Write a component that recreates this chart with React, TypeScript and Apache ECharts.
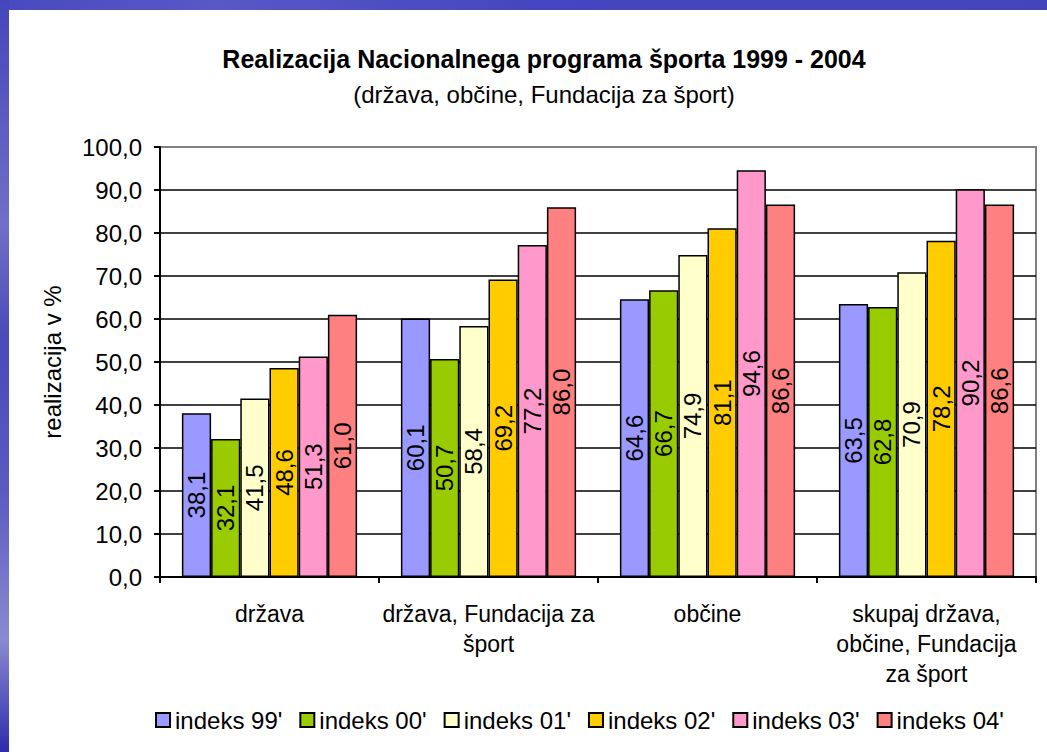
import React, { useEffect, useRef } from "react";
import * as echarts from "echarts";

const categories = [
  "država",
  "država, Fundacija za\nšport",
  "občine",
  "skupaj država,\nobčine, Fundacija\nza šport",
];
const seriesNames = ["indeks 99'", "indeks 00'", "indeks 01'", "indeks 02'", "indeks 03'", "indeks 04'"];
const seriesColors = ["#9999FF", "#99CC00", "#FFFFCC", "#FFCC00", "#FF99CC", "#FF8080"];
const index99 = [38.1, 60.1, 64.6, 63.5];
const index00 = [32.1, 50.7, 66.7, 62.8];
const index01 = [41.5, 58.4, 74.9, 70.9];
const index02 = [48.6, 69.2, 81.1, 78.2];
const index03 = [51.3, 77.2, 94.6, 90.2];
const index04 = [61.0, 86.0, 86.6, 86.6];
const seriesValues = [index99, index00, index01, index02, index03, index04];

const titleText = "Realizacija Nacionalnega programa športa 1999 - 2004";
const subtitleText = "(država, občine, Fundacija za šport)";
const yAxisName = "realizacija v %";

const FONT = "'Liberation Sans', Arial, sans-serif";
const fmt = (v: number) => v.toFixed(1).replace(".", ",");

export default function App() {
  const ref = useRef<HTMLDivElement>(null);
  useEffect(() => {
    if (!ref.current) return;
    const chart = echarts.init(ref.current, undefined, { renderer: "svg" });
    const splitColors = Array.from({ length: 11 }, (_, i) => (i === 10 ? "#808080" : "#000000"));
    chart.setOption({
      animation: false,
      backgroundColor: "#ffffff",
      textStyle: { fontFamily: FONT },
      graphic: [
        {
          type: "rect",
          z: -10,
          silent: true,
          shape: { x: 0, y: 0, width: 1047, height: 752 },
          style: {
            fill: new echarts.graphic.LinearGradient(0, 0, 0, 1, [
              { offset: 0, color: "#4646bc" },
              { offset: 0.12, color: "#5656c0" },
              { offset: 0.3, color: "#7070c8" },
              { offset: 0.45, color: "#4a4ab8" },
              { offset: 0.65, color: "#5a5ac2" },
              { offset: 0.85, color: "#8a8ad0" },
              { offset: 1, color: "#2c2cae" },
            ]),
          },
        },
        {
          type: "rect",
          z: -9,
          silent: true,
          shape: { x: 9, y: 0, width: 1038, height: 10 },
          style: {
            fill: new echarts.graphic.LinearGradient(0, 0, 1, 0, [
              { offset: 0, color: "#4a4ac0" },
              { offset: 0.2, color: "#5858c8" },
              { offset: 0.5, color: "#4646c0" },
              { offset: 1, color: "#4444bc" },
            ]),
          },
        },
        {
          type: "rect",
          z: -8,
          silent: true,
          shape: { x: 9, y: 10, width: 1038, height: 742 },
          style: { fill: "#ffffff" },
        },
        {
          type: "text",
          x: 544,
          y: 59,
          style: {
            text: titleText,
            font: `bold 25px ${FONT}`,
            fill: "#000",
            align: "center",
            verticalAlign: "middle",
          },
        },
        {
          type: "text",
          x: 544,
          y: 94,
          style: {
            text: subtitleText,
            font: `24px ${FONT}`,
            fill: "#000",
            align: "center",
            verticalAlign: "middle",
          },
        },
        {
          type: "text",
          x: 52,
          y: 362,
          rotation: Math.PI / 2,
          style: {
            text: yAxisName,
            font: `24px ${FONT}`,
            fill: "#000",
            align: "center",
            verticalAlign: "middle",
          },
        },
      ],
      grid: {
        left: 160,
        top: 147,
        right: 11,
        bottom: 175,
        show: true,
        borderColor: "#808080",
        borderWidth: 2,
        backgroundColor: "transparent",
      },
      legend: {
        left: 150,
        top: 703,
        itemWidth: 14,
        itemHeight: 14,
        itemGap: 17,
        icon: "rect",
        textStyle: { fontSize: 24, color: "#000", fontFamily: FONT },
        data: seriesNames,
      },
      xAxis: {
        type: "category",
        data: categories,
        axisLine: { lineStyle: { color: "#000", width: 2 } },
        axisTick: { show: true, length: 6, lineStyle: { color: "#000", width: 2 } },
        axisLabel: {
          interval: 0,
          fontSize: 23,
          lineHeight: 30,
          color: "#000",
          margin: 22,
          fontFamily: FONT,
        },
        splitLine: { show: false },
      },
      yAxis: {
        type: "value",
        min: 0,
        max: 100,
        interval: 10,
        axisLine: { show: true, lineStyle: { color: "#000", width: 2 } },
        axisTick: { show: true, length: 6, lineStyle: { color: "#000", width: 2 } },
        axisLabel: {
          fontSize: 24,
          color: "#000",
          margin: 18,
          fontFamily: FONT,
          formatter: (v: number) => fmt(v),
        },
        splitLine: { show: true, lineStyle: { color: splitColors, width: 1.5 } },
      },
      series: seriesNames.map((name, i) => ({
        name,
        type: "bar",
        data: seriesValues[i],
        barGap: "0%",
        barCategoryGap: "20%",
        itemStyle: { color: seriesColors[i], borderColor: "#000", borderWidth: 1.5 },
        label: {
          show: true,
          position: "inside",
          rotate: 90,
          fontSize: 24,
          color: "#000",
          fontFamily: FONT,
          formatter: (p: any) => fmt(p.value),
        },
      })),
    });
    return () => chart.dispose();
  }, []);
  return (
    <div
      ref={ref}
      style={{ position: "fixed", left: 0, top: 0, width: 1047, height: 752 }}
    />
  );
}
